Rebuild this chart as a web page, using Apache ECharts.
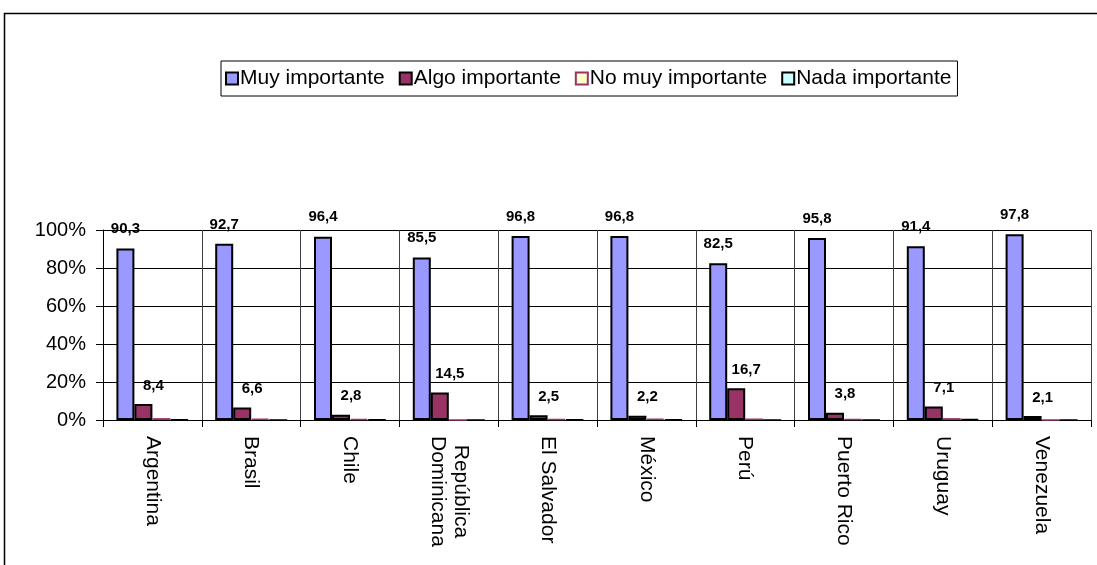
<!DOCTYPE html>
<html>
<head>
<meta charset="utf-8">
<script src="https://cdn.jsdelivr.net/npm/echarts@6/dist/echarts.min.js"></script>
<style>
  html, body { margin: 0; padding: 0; background: #fff; }
  #chart { width: 1097px; height: 565px; }
</style>
</head>
<body>
<div id="chart"></div>
<script>
// categorias (paises)
const paises = ['Argentina', 'Brasil', 'Chile', 'República\nDominicana', 'El Salvador',
  'México', 'Perú', 'Puerto Rico', 'Uruguay', 'Venezuela'];

// porcentajes por serie
const muyImportante = [90.3, 92.7, 96.4, 85.5, 96.8, 96.8, 82.5, 95.8, 91.4, 97.8];
const algoImportante = [8.4, 6.6, 2.8, 14.5, 2.5, 2.2, 16.7, 3.8, 7.1, 2.1];
const noMuyImportante = [1.0, 0.7, 0.6, 0, 0.5, 0.7, 0.8, 0.4, 1.0, 0.1];
const nadaImportante = [0.3, 0, 0.2, 0, 0.2, 0.3, 0, 0, 0.5, 0];

const yTicks = [0, 20, 40, 60, 80, 100];

const font = 'Arial, "Liberation Sans", sans-serif';

// etiqueta con coma decimal
function coma(p) {
  return String(p.value.toFixed(1)).replace('.', ',');
}

const chart = echarts.init(document.getElementById('chart'));

chart.setOption({
  animation: false,
  backgroundColor: '#fff',
  textStyle: { fontFamily: font, color: '#000' },
  graphic: [{
    type: 'rect',
    shape: { x: 4.5, y: 13.5, width: 1200, height: 700 },
    style: { fill: 'none', stroke: '#000', lineWidth: 1.5 },
    silent: true
  }],
  legend: {
    left: 221,
    top: 61,
    padding: [7, 6, 7, 4],
    borderColor: '#000',
    borderWidth: 1,
    itemWidth: 12,
    itemHeight: 12,
    itemGap: 14,
    icon: 'rect',
    textStyle: { fontSize: 21, fontFamily: font, color: '#000', padding: [0, 0, 0, -3] },
    data: ['Muy importante', 'Algo importante', 'No muy importante', 'Nada importante']
  },
  grid: {
    left: 103,
    right: 6,
    top: 230,
    bottom: 145
  },
  xAxis: {
    type: 'category',
    data: paises,
    axisLine: { lineStyle: { color: '#000', width: 1 } },
    axisTick: { show: true, length: 7, lineStyle: { color: '#000' } },
    splitLine: { show: true, interval: 0, lineStyle: { color: '#404040', width: 1 } },
    axisLabel: {
      interval: 0,
      rotate: -90,
      margin: 16,
      fontSize: 21,
      fontFamily: font,
      color: '#000',
      formatter: v => v.split('\n').map(s => '{c|' + s + '}').join('\n'),
      rich: { c: { align: 'center', fontSize: 21, fontFamily: font, color: '#000', lineHeight: 23 } }
    }
  },
  yAxis: {
    type: 'value',
    min: yTicks[0],
    max: yTicks[yTicks.length - 1],
    interval: 20,
    axisLine: { show: true, lineStyle: { color: '#000', width: 1 } },
    axisTick: { show: true, length: 7, lineStyle: { color: '#000' } },
    splitLine: { show: true, lineStyle: { color: '#000', width: 1 } },
    axisLabel: {
      margin: 17,
      fontSize: 20,
      fontFamily: font,
      color: '#000',
      formatter: '{value}%'
    }
  },
  series: [
    {
      name: 'Muy importante',
      type: 'bar',
      data: muyImportante,
      barWidth: 18,
      barGap: '0%',
      itemStyle: { color: '#9999FF', borderColor: '#000', borderWidth: 2 },
      label: {
        show: true, position: 'top', distance: 12,
        fontSize: 15, fontWeight: 'bold', fontFamily: font, color: '#000',
        formatter: coma
      }
    },
    {
      name: 'Algo importante',
      type: 'bar',
      data: algoImportante,
      barWidth: 18,
      barGap: '0%',
      itemStyle: { color: '#993366', borderColor: '#000', borderWidth: 2 },
      label: {
        show: true, position: 'top', distance: 11, offset: [10, 0],
        fontSize: 15, fontWeight: 'bold', fontFamily: font, color: '#000',
        formatter: coma
      }
    },
    {
      name: 'No muy importante',
      type: 'bar',
      data: noMuyImportante,
      barWidth: 18,
      barGap: '0%',
      itemStyle: { color: '#FFFFCC', borderColor: '#993366', borderWidth: 1.5 }
    },
    {
      name: 'Nada importante',
      type: 'bar',
      data: nadaImportante,
      barWidth: 18,
      barGap: '0%',
      itemStyle: { color: '#CCFFFF', borderColor: '#000', borderWidth: 1.5 }
    }
  ]
});
</script>
</body>
</html>
